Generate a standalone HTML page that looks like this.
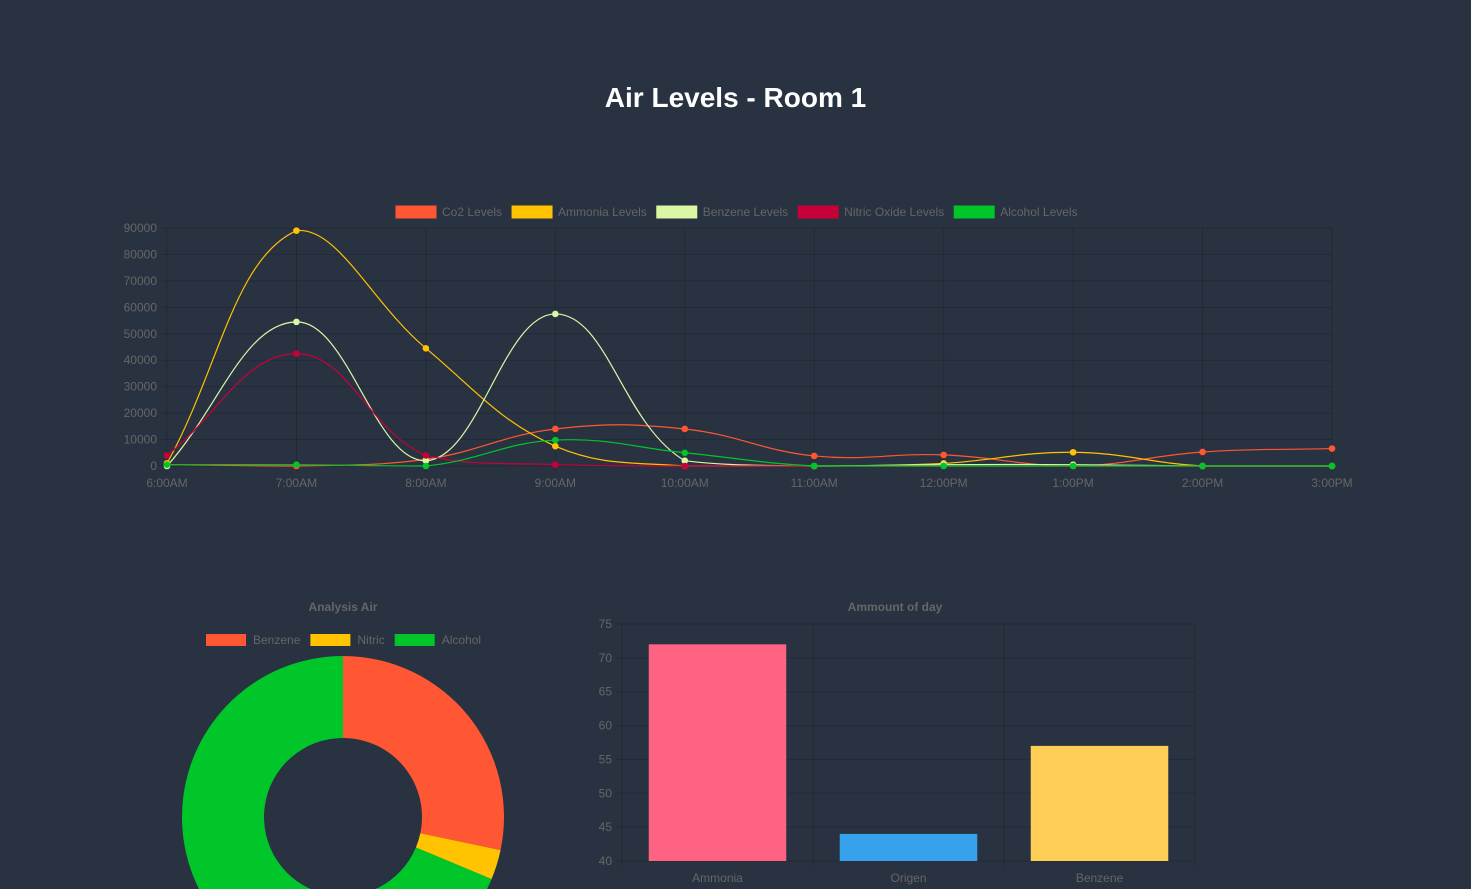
<!DOCTYPE html>
<html><head><meta charset="utf-8"><style>
html,body{margin:0;padding:0;background:#293241;width:1471px;height:889px;overflow:hidden;font-family:"Liberation Sans",sans-serif}
h1{position:absolute;left:0;width:1471px;top:82px;margin:0;text-align:center;color:#fff;font-size:28px;font-weight:bold;font-family:"Liberation Sans",sans-serif;line-height:32px}
svg{position:absolute;left:0;top:0;overflow:hidden}
text{font-family:"Liberation Sans",sans-serif;fill:#666;font-size:12px}
</style></head><body>
<h1>Air Levels - Room 1</h1>
<svg id="svg" width="1471" height="889"></svg>
<script>
const times=["6:00AM","7:00AM","8:00AM","9:00AM","10:00AM","11:00AM","12:00PM","1:00PM","2:00PM","3:00PM"];
const lineTicks=[0,10000,20000,30000,40000,50000,60000,70000,80000,90000];
const seriesNames=["Co2 Levels","Ammonia Levels","Benzene Levels","Nitric Oxide Levels","Alcohol Levels"];
const co2=[500,0,2500,14000,14000,3800,4200,0,5300,6600];
const ammonia=[1000,89000,44500,7500,0,0,1000,5200,0,0];
const benzene=[0,54500,2000,57500,2000,0,500,500,0,0];
const nitric=[4000,42500,4000,500,0,0,0,0,0,0];
const alcohol=[500,500,0,9800,5000,0,0,0,0,0];
const donutLabels=["Benzene","Nitric","Alcohol"];
const donutValues=[28.3,3.0,68.7];
const barLabels=["Ammonia","Origen","Benzene"];
const barValues=[72,44,57];
const barTicks=[40,45,50,55,60,65,70,75];

const NS="http://www.w3.org/2000/svg";
const svg=document.getElementById('svg');
function el(t,a,p){const e=document.createElementNS(NS,t);for(const k in a)e.setAttribute(k,a[k]);(p||svg).appendChild(e);return e;}
function tx(x,y,s,anchor,extra){const e=el('text',Object.assign({x:x,y:y,'text-anchor':anchor||'start'},extra||{}));e.textContent=s;return e;}
const grid='rgba(0,0,0,0.15)';
const X0=167,X1=1332,Y0=466,Y1=228,YMAX=90000;
const xs=i=>X0+(X1-X0)*i/(times.length-1);
const ys=v=>Y0-(Y0-Y1)*v/YMAX;
lineTicks.forEach(t=>{const g=el('line',{x1:X0-6,x2:X1,y1:ys(t),y2:ys(t),stroke:grid});

const l=tx(157,ys(t)+4,String(t),'end');});
times.forEach((t,i)=>{const g=el('line',{x1:xs(i),x2:xs(i),y1:Y1,y2:Y0+6,stroke:grid});

const l=tx(xs(i),487,t,'middle');});
const colors=["#ff5733","#ffc300","#daf7a6","#c70039","#00c62a"];
const data=[co2,ammonia,benzene,nitric,alcohol];
const clampY=y=>Math.max(Y1-2,Math.min(Y0,y));
function spline(pts){let d='M'+pts[0][0]+','+pts[0][1];const T=0.4;
 const cps=pts.map((p,i)=>{const pr=pts[i-1]||p,nx=pts[i+1]||p;
  const d01=Math.hypot(p[0]-pr[0],p[1]-pr[1]),d12=Math.hypot(nx[0]-p[0],nx[1]-p[1]);
  let fa=d01/(d01+d12||1),fb=d12/(d01+d12||1);
  fa*=T;fb*=T;return{p:[p[0]-fa*(nx[0]-pr[0]),clampY(p[1]-fa*(nx[1]-pr[1]))],n:[p[0]+fb*(nx[0]-pr[0]),clampY(p[1]+fb*(nx[1]-pr[1]))]};});
 for(let i=1;i<pts.length;i++){d+=' C'+cps[i-1].n.join(',')+' '+cps[i].p.join(',')+' '+pts[i].join(',');}
 return d;}
data.forEach((s,k)=>{const pts=s.map((v,i)=>[xs(i),ys(v)]);
 const p=el('path',{d:spline(pts),fill:'none',stroke:colors[k],'stroke-width':1.2});
 
 pts.forEach(q=>{const c=el('circle',{cx:q[0],cy:q[1],r:3.3,fill:colors[k]});
  });});
let lx=396;
seriesNames.forEach((n,k)=>{const r=el('rect',{x:lx,y:206,width:40,height:12,fill:colors[k],stroke:colors[k]});
 
 const t=tx(lx+46,216,n);
 lx+=46+t.getComputedTextLength()+10;});
const dt=tx(343,611,'Analysis Air','middle',{'font-weight':'bold'});

const dcol=["#ff5733","#ffc300","#00c62a"];
let dx=206;
donutLabels.forEach((n,k)=>{const r=el('rect',{x:dx,y:634,width:40,height:12,fill:dcol[k]});
 
 const t=tx(dx+47,644,n);
 dx+=47+t.getComputedTextLength()+10;});
const cx=343,cy=817,R=161,r0=79;const tot=donutValues.reduce((a,b)=>a+b,0);
let a0=-Math.PI/2;
donutValues.forEach((v,k)=>{const a1=a0+2*Math.PI*v/tot;const lg=(a1-a0)>Math.PI?1:0;
 const P=(r,a)=>(cx+r*Math.cos(a))+','+(cy+r*Math.sin(a));
 const p=el('path',{d:'M'+P(R,a0)+' A'+R+','+R+' 0 '+lg+' 1 '+P(R,a1)+' L'+P(r0,a1)+' A'+r0+','+r0+' 0 '+lg+' 0 '+P(r0,a0)+'Z',fill:dcol[k]});
 a0=a1;});
const bt=tx(895,611,'Ammount of day','middle',{'font-weight':'bold'});

const BX0=622,BX1=1195,BY0=861,BY1=624,BMIN=40,BMAX=75;
const by=v=>BY0-(BY0-BY1)*(v-BMIN)/(BMAX-BMIN);
const bw=(BX1-BX0)/barLabels.length;
barTicks.forEach(t=>{const g=el('line',{x1:BX0-6,x2:BX1,y1:by(t),y2:by(t),stroke:grid});
 
 const l=tx(612,by(t)+4,String(t),'end');});
for(let i=0;i<=barLabels.length;i++){const g=el('line',{x1:BX0+bw*i,x2:BX0+bw*i,y1:BY1,y2:BY0+6,stroke:grid});
 }
const bcol=["#ff6384","#36a2eb","#ffce56"];
barValues.forEach((v,i)=>{const x=BX0+bw*i+bw*0.14;
 const b=el('rect',{x:x,y:by(v),width:bw*0.72,height:BY0-by(v),fill:bcol[i]});
 
 const l=tx(BX0+bw*(i+0.5),882,barLabels[i],'middle');});
</script>
</body></html>
